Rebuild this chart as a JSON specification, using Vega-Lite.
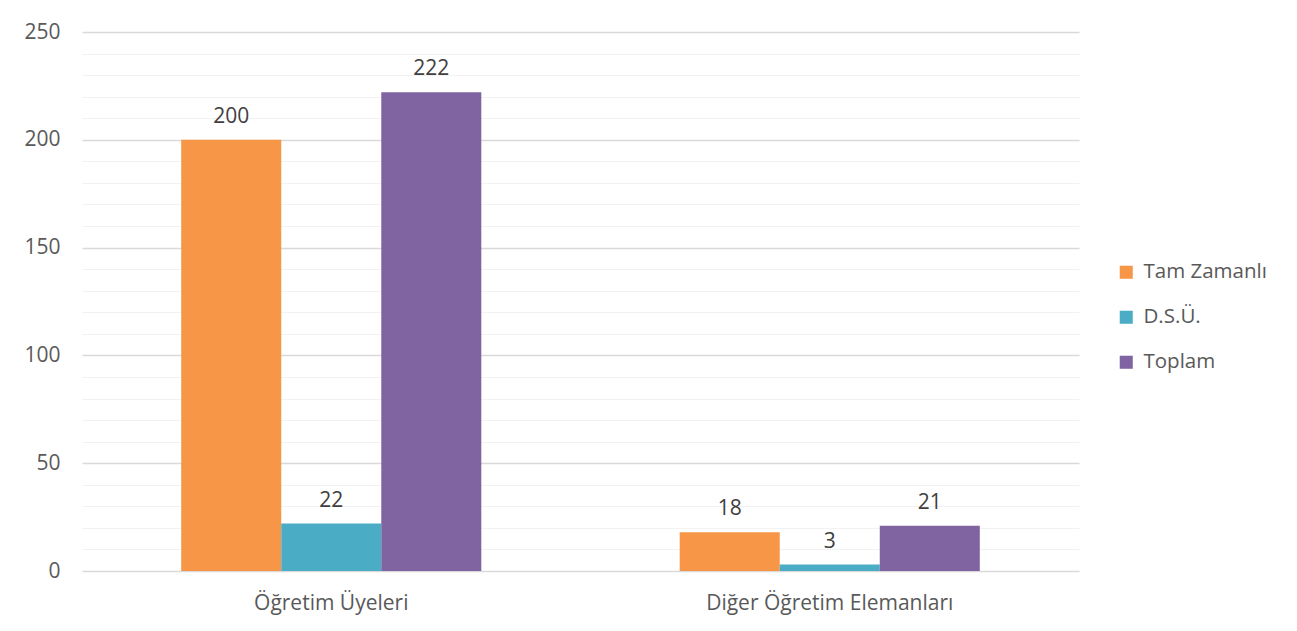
{
  "$schema": "https://vega.github.io/schema/vega-lite/v6.json",
  "width": 997,
  "height": 539,
  "autosize": {"type": "none"},
  "padding": {"left": 82, "top": 32, "right": 218, "bottom": 60},
  "background": "white",
  "config": {
    "view": {"stroke": null},
    "font": "Open Sans",
    "axis": {"labelFont": "Open Sans", "labelColor": "#595959", "labelFontSize": 21, "domain": false, "ticks": false}
  },
  "data": {
    "values": [
      {"kategori": "Öğretim Üyeleri", "seri": "Tam Zamanlı", "deger": 200},
      {"kategori": "Öğretim Üyeleri", "seri": "D.S.Ü.", "deger": 22},
      {"kategori": "Öğretim Üyeleri", "seri": "Toplam", "deger": 222},
      {"kategori": "Diğer Öğretim Elemanları", "seri": "Tam Zamanlı", "deger": 18},
      {"kategori": "Diğer Öğretim Elemanları", "seri": "D.S.Ü.", "deger": 3},
      {"kategori": "Diğer Öğretim Elemanları", "seri": "Toplam", "deger": 21}
    ]
  },
  "encoding": {
    "x": {
      "field": "kategori", "type": "nominal",
      "sort": ["Öğretim Üyeleri", "Diğer Öğretim Elemanları"],
      "scale": {"paddingInner": 0.398, "paddingOuter": 0.199},
      "axis": {"title": null, "labelAngle": 0, "labelPadding": 21, "labelLimit": 0, "grid": false, "labelFontSize": 21}
    },
    "xOffset": {
      "field": "seri", "type": "nominal",
      "sort": ["Tam Zamanlı", "D.S.Ü.", "Toplam"],
      "scale": {"paddingInner": 0, "paddingOuter": 0}
    },
    "y": {
      "field": "deger", "type": "quantitative",
      "scale": {"domain": [0, 250], "nice": false},
      "axis": {
        "title": null,
        "values": [0,10,20,30,40,50,60,70,80,90,100,110,120,130,140,150,160,170,180,190,200,210,220,230,240,250],
        "labelExpr": "datum.value % 50 === 0 ? datum.label : ''",
        "labelPadding": 22,
        "labelFontSize": 21,
        "grid": true,
        "gridColor": {"condition": {"test": "datum.value % 50 === 0", "value": "#d9d9d9"}, "value": "#f2f2f2"},
        "gridWidth": {"condition": {"test": "datum.value % 50 === 0", "value": 1.5}, "value": 1.2}
      }
    }
  },
  "layer": [
    {
      "mark": {"type": "bar"},
      "encoding": {
        "color": {
          "field": "seri", "type": "nominal",
          "sort": ["Tam Zamanlı", "D.S.Ü.", "Toplam"],
          "scale": {"domain": ["Tam Zamanlı", "D.S.Ü.", "Toplam"], "range": ["#F79646", "#4BACC6", "#8064A2"]},
          "legend": {
            "title": null,
            "orient": "none",
            "legendX": 1034,
            "legendY": 230,
            "symbolType": "square",
            "symbolSize": 170,
            "symbolStrokeWidth": 0,
            "labelFontSize": 20.5,
            "labelFont": "Open Sans",
            "labelColor": "#595959",
            "rowPadding": 24,
            "labelOffset": 7,
            "labelLimit": 0
          }
        }
      }
    },
    {
      "mark": {"type": "text", "baseline": "bottom", "dy": -13, "fontSize": 21, "font": "Open Sans", "color": "#404040"},
      "encoding": {"text": {"field": "deger", "type": "quantitative"}}
    }
  ]
}
